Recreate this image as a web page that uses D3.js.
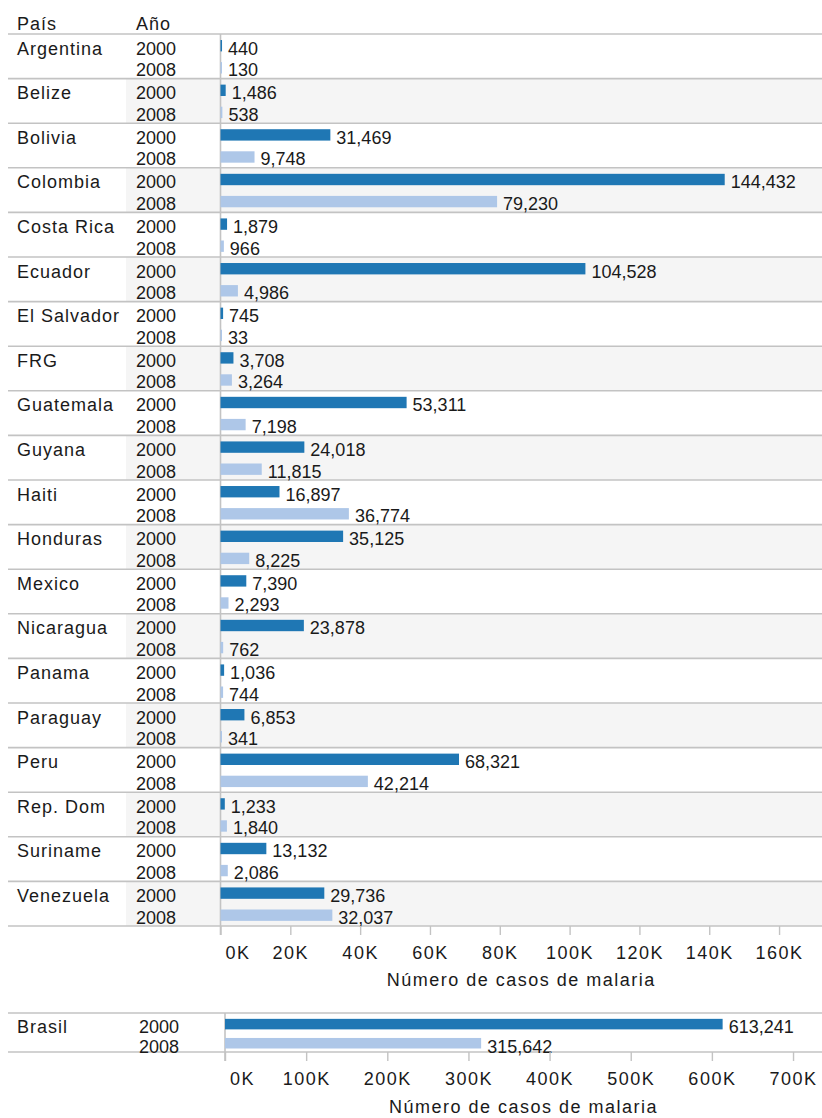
<!DOCTYPE html>
<html>
<head>
<meta charset="utf-8">
<script src="https://cdn.jsdelivr.net/npm/d3@7"></script>
<style>
  body { margin: 0; background: #fff; }
  svg { display: block; font-family: "Liberation Sans", Arial, sans-serif; }
  text { fill: #1a1a1a; font-size: 18px; }
  text.name { letter-spacing: 1px; }
  text.wide { letter-spacing: 1.5px; }
</style>
</head>
<body>
<svg id="chart" width="822" height="1118"></svg>
<script>
// Malaria cases per country, 2000 vs 2008
const countries = ["Argentina", "Belize", "Bolivia", "Colombia", "Costa Rica", "Ecuador",
  "El Salvador", "FRG", "Guatemala", "Guyana", "Haiti", "Honduras", "Mexico", "Nicaragua",
  "Panama", "Paraguay", "Peru", "Rep. Dom", "Suriname", "Venezuela"];
const cases2000 = [440, 1486, 31469, 144432, 1879, 104528, 745, 3708, 53311, 24018,
  16897, 35125, 7390, 23878, 1036, 6853, 68321, 1233, 13132, 29736];
const cases2008 = [130, 538, 9748, 79230, 966, 4986, 33, 3264, 7198, 11815,
  36774, 8225, 2293, 762, 744, 341, 42214, 1840, 2086, 32037];
const years = ["2000", "2008"];

const brasilCountry = ["Brasil"];
const brasil2000 = [613241];
const brasil2008 = [315642];

const topTicks = [0, 20000, 40000, 60000, 80000, 100000, 120000, 140000, 160000];
const brasilTicks = [0, 100000, 200000, 300000, 400000, 500000, 600000, 700000];

const headerCountry = "País";
const headerYear = "Año";
const axisTitle = "Número de casos de malaria";

const color2000 = "#1f77b4";
const color2008 = "#aec7e8";
const gridColor = "#c3c3c3";
const shadeColor = "#f5f5f5";

const svg = d3.select("#chart");
const W = 822;
const lineX0 = 8;
const countryX = 17;
const fmtVal = d3.format(",");
const fmtTick = v => (v / 1000) + "K";

function panel(opts) {
  const { names, v2000, v2008, yRange, x0, xMax, ticks, yearX, shade, geom } = opts;
  const rows = names.map((n, i) => ({ name: n, i, v: [v2000[i], v2008[i]] }));
  const y = d3.scaleBand().domain(names).range(yRange).padding(0);
  const bw = y.bandwidth();
  const x = d3.scaleLinear().domain([0, xMax]).range([x0, W]);
  const g = svg.append("g");

  // alternating row shading
  if (shade) {
    g.selectAll("rect.shade").data(rows.filter(r => r.i % 2 === 1)).join("rect")
      .attr("class", "shade")
      .attr("x", 126).attr("width", W - 126)
      .attr("y", d => y(d.name)).attr("height", bw)
      .attr("fill", shadeColor);
  }

  // row separators
  const bounds = names.map(n => y(n)).concat([yRange[1]]);
  g.selectAll("line.sep").data(bounds).join("line")
    .attr("class", "sep")
    .attr("x1", lineX0).attr("x2", W)
    .attr("y1", d => d).attr("y2", d => d)
    .attr("stroke", gridColor).attr("stroke-width", 1.6);

  // zero line
  g.append("line")
    .attr("x1", x(0)).attr("x2", x(0))
    .attr("y1", yRange[0]).attr("y2", yRange[1] + 9)
    .attr("stroke", gridColor).attr("stroke-width", 1.6);

  const rowG = g.selectAll("g.row").data(rows).join("g")
    .attr("class", "row")
    .attr("transform", d => `translate(0,${y(d.name)})`);

  rowG.append("text")
    .attr("class", "name")
    .attr("x", countryX).attr("y", geom.t0 * bw)
    .text(d => d.name);

  years.forEach((yr, k) => {
    const ty = (k === 0 ? geom.t0 : geom.t1) * bw;
    const by = (k === 0 ? geom.b0 : geom.b1) * bw;
    rowG.append("text")
      .attr("x", yearX).attr("y", ty)
      .text(yr);
    rowG.append("rect")
      .attr("x", x(0))
      .attr("y", by)
      .attr("height", geom.bh * bw)
      .attr("width", d => Math.max(x(d.v[k]) - x(0), 1.5))
      .attr("fill", k === 0 ? color2000 : color2008);
    rowG.append("text")
      .attr("x", d => x(0) + Math.max(x(d.v[k]) - x(0), 1.5) + 6)
      .attr("y", ty)
      .text(d => fmtVal(d.v[k]));
  });

  // bottom axis
  const axis = d3.axisBottom(x).tickValues(ticks).tickFormat(fmtTick)
    .tickSize(9).tickPadding(11.5);
  const ag = svg.append("g")
    .attr("transform", `translate(0,${yRange[1]})`)
    .call(axis);
  ag.select(".domain").remove();
  ag.selectAll(".tick line").attr("stroke", gridColor).attr("stroke-width", 1.4);
  ag.selectAll(".tick text")
    .attr("class", "wide")
    .attr("fill", "#1a1a1a")
    .style("font-size", "18px")
    .style("font-family", '"Liberation Sans", Arial, sans-serif')
    .attr("dy", "0.71em");
  ag.selectAll(".tick text").filter(d => d === 0)
    .attr("text-anchor", "start").attr("x", 4.5);

  svg.append("text")
    .attr("class", "wide")
    .attr("x", (x0 + W) / 2)
    .attr("y", yRange[1] + opts.titleDy)
    .attr("text-anchor", "middle")
    .text(axisTitle);
}

// header
svg.append("text").attr("class", "name").attr("x", countryX).attr("y", 29.5).text(headerCountry);
svg.append("text").attr("class", "name").attr("x", 136).attr("y", 29.5).text(headerYear);

panel({
  names: countries, v2000: cases2000, v2008: cases2008,
  yRange: [34, 926], x0: 220.5, xMax: 172300, ticks: topTicks,
  yearX: 136, shade: true, titleDy: 60,
  geom: { t0: 0.46, t1: 0.945, b0: 0.135, b1: 0.63, bh: 0.255 }
});

panel({
  names: brasilCountry, v2000: brasil2000, v2008: brasil2008,
  yRange: [1013, 1052], x0: 225, xMax: 735700, ticks: brasilTicks,
  yearX: 139, shade: false, titleDy: 61,
  geom: { t0: 0.52, t1: 1.02, b0: 0.15, b1: 0.64, bh: 0.27 }
});
</script>
</body>
</html>
